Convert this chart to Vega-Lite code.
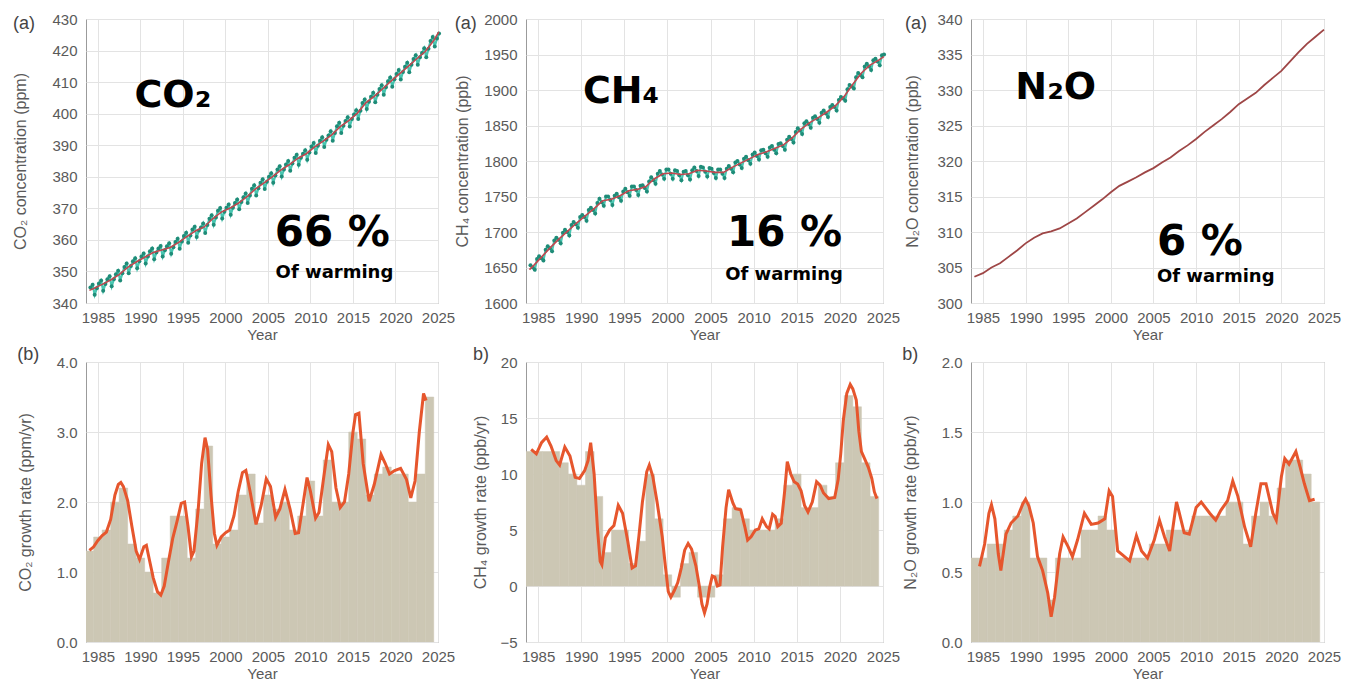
{
"$schema": "https://vega.github.io/schema/vega-lite/v6.json",
"background": "#ffffff",
"padding": {"left": 12, "top": 11, "right": 5, "bottom": 5},
"columns": 3,
"bounds": "flush",
"align": "each",
"spacing": {"row": 59, "column": 88},
"datasets": {
"co2m": [
{"t":1984.12,"v":344.9},{"t":1984.38,"v":345.8},{"t":1984.62,"v":342.6},{"t":1984.88,"v":344.7},
{"t":1985.12,"v":346.2},{"t":1985.38,"v":347.1},{"t":1985.62,"v":343.9},{"t":1985.88,"v":346.0},
{"t":1986.12,"v":347.5},{"t":1986.38,"v":348.5},{"t":1986.62,"v":345.3},{"t":1986.88,"v":347.5},
{"t":1987.12,"v":349.1},{"t":1987.38,"v":350.2},{"t":1987.62,"v":347.1},{"t":1987.88,"v":349.4},
{"t":1988.12,"v":351.4},{"t":1988.38,"v":352.5},{"t":1988.62,"v":349.4},{"t":1988.88,"v":351.7},
{"t":1989.12,"v":353.2},{"t":1989.38,"v":354.2},{"t":1989.62,"v":351.0},{"t":1989.88,"v":353.2},
{"t":1990.12,"v":354.7},{"t":1990.38,"v":355.7},{"t":1990.62,"v":352.5},{"t":1990.88,"v":354.7},
{"t":1991.12,"v":356.4},{"t":1991.38,"v":357.3},{"t":1991.62,"v":353.9},{"t":1991.88,"v":356.0},
{"t":1992.12,"v":357.3},{"t":1992.38,"v":358.1},{"t":1992.62,"v":354.7},{"t":1992.88,"v":356.7},
{"t":1993.12,"v":358.0},{"t":1993.38,"v":358.9},{"t":1993.62,"v":355.6},{"t":1993.88,"v":357.7},
{"t":1994.12,"v":359.3},{"t":1994.38,"v":360.4},{"t":1994.62,"v":357.2},{"t":1994.88,"v":359.5},
{"t":1995.12,"v":361.2},{"t":1995.38,"v":362.3},{"t":1995.62,"v":359.1},{"t":1995.88,"v":361.4},
{"t":1996.12,"v":363.3},{"t":1996.38,"v":364.2},{"t":1996.62,"v":360.9},{"t":1996.88,"v":363.0},
{"t":1997.12,"v":363.9},{"t":1997.38,"v":365.2},{"t":1997.62,"v":362.2},{"t":1997.88,"v":364.7},
{"t":1998.12,"v":366.7},{"t":1998.38,"v":367.8},{"t":1998.62,"v":364.8},{"t":1998.88,"v":367.1},
{"t":1999.12,"v":369.2},{"t":1999.38,"v":370.1},{"t":1999.62,"v":366.8},{"t":1999.88,"v":368.9},
{"t":2000.12,"v":370.2},{"t":2000.38,"v":371.2},{"t":2000.62,"v":368.0},{"t":2000.88,"v":370.2},
{"t":2001.12,"v":371.7},{"t":2001.38,"v":372.8},{"t":2001.62,"v":369.7},{"t":2001.88,"v":372.0},
{"t":2002.12,"v":373.5},{"t":2002.38,"v":374.7},{"t":2002.62,"v":371.7},{"t":2002.88,"v":374.1},
{"t":2003.12,"v":376.2},{"t":2003.38,"v":377.3},{"t":2003.62,"v":374.1},{"t":2003.88,"v":376.4},
{"t":2004.12,"v":378.1},{"t":2004.38,"v":379.2},{"t":2004.62,"v":376.1},{"t":2004.88,"v":378.4},
{"t":2005.12,"v":380.0},{"t":2005.38,"v":381.1},{"t":2005.62,"v":378.1},{"t":2005.88,"v":380.4},
{"t":2006.12,"v":382.3},{"t":2006.38,"v":383.3},{"t":2006.62,"v":380.1},{"t":2006.88,"v":382.3},
{"t":2007.12,"v":383.9},{"t":2007.38,"v":385.0},{"t":2007.62,"v":381.9},{"t":2007.88,"v":384.2},
{"t":2008.12,"v":386.0},{"t":2008.38,"v":387.0},{"t":2008.62,"v":383.8},{"t":2008.88,"v":386.0},
{"t":2009.12,"v":387.3},{"t":2009.38,"v":388.4},{"t":2009.62,"v":385.4},{"t":2009.88,"v":387.7},
{"t":2010.12,"v":389.6},{"t":2010.38,"v":390.7},{"t":2010.62,"v":387.5},{"t":2010.88,"v":389.8},
{"t":2011.12,"v":391.4},{"t":2011.38,"v":392.5},{"t":2011.62,"v":389.4},{"t":2011.88,"v":391.7},
{"t":2012.12,"v":393.1},{"t":2012.38,"v":394.4},{"t":2012.62,"v":391.4},{"t":2012.88,"v":393.9},
{"t":2013.12,"v":396.0},{"t":2013.38,"v":397.1},{"t":2013.62,"v":393.9},{"t":2013.88,"v":396.2},
{"t":2014.12,"v":397.7},{"t":2014.38,"v":398.9},{"t":2014.62,"v":395.9},{"t":2014.88,"v":398.3},
{"t":2015.12,"v":399.7},{"t":2015.38,"v":401.1},{"t":2015.62,"v":398.3},{"t":2015.88,"v":400.9},
{"t":2016.12,"v":403.4},{"t":2016.38,"v":404.5},{"t":2016.62,"v":401.5},{"t":2016.88,"v":403.8},
{"t":2017.12,"v":405.4},{"t":2017.38,"v":406.6},{"t":2017.62,"v":403.6},{"t":2017.88,"v":406.0},
{"t":2018.12,"v":407.8},{"t":2018.38,"v":409.0},{"t":2018.62,"v":406.0},{"t":2018.88,"v":408.4},
{"t":2019.12,"v":410.3},{"t":2019.38,"v":411.5},{"t":2019.62,"v":408.5},{"t":2019.88,"v":410.9},
{"t":2020.12,"v":412.6},{"t":2020.38,"v":413.8},{"t":2020.62,"v":410.8},{"t":2020.88,"v":413.2},
{"t":2021.12,"v":414.9},{"t":2021.38,"v":416.1},{"t":2021.62,"v":413.1},{"t":2021.88,"v":415.5},
{"t":2022.12,"v":417.3},{"t":2022.38,"v":418.5},{"t":2022.62,"v":415.5},{"t":2022.88,"v":417.9},
{"t":2023.12,"v":419.2},{"t":2023.38,"v":420.7},{"t":2023.62,"v":417.9},{"t":2023.88,"v":420.6},
{"t":2024.12,"v":423.0},{"t":2024.38,"v":424.3},{"t":2024.62,"v":421.3},{"t":2024.88,"v":423.8},
{"t":2025.12,"v":425.4}
],
"co2t": [
{"t":1984.0,"v":344.0},{"t":1984.5,"v":344.6},{"t":1985.5,"v":345.9},{"t":1986.5,"v":347.3},{"t":1987.5,"v":349.0},
{"t":1988.5,"v":351.3},{"t":1989.5,"v":353.0},{"t":1990.5,"v":354.5},{"t":1991.5,"v":356.0},{"t":1992.5,"v":356.8},
{"t":1993.5,"v":357.6},{"t":1994.5,"v":359.2},{"t":1995.5,"v":361.1},{"t":1996.5,"v":362.9},{"t":1997.5,"v":364.1},
{"t":1998.5,"v":366.7},{"t":1999.5,"v":368.8},{"t":2000.5,"v":370.0},{"t":2001.5,"v":371.6},{"t":2002.5,"v":373.6},
{"t":2003.5,"v":376.1},{"t":2004.5,"v":378.0},{"t":2005.5,"v":380.0},{"t":2006.5,"v":382.1},{"t":2007.5,"v":383.8},
{"t":2008.5,"v":385.8},{"t":2009.5,"v":387.3},{"t":2010.5,"v":389.5},{"t":2011.5,"v":391.3},{"t":2012.5,"v":393.3},
{"t":2013.5,"v":395.9},{"t":2014.5,"v":397.8},{"t":2015.5,"v":400.1},{"t":2016.5,"v":403.4},{"t":2017.5,"v":405.5},
{"t":2018.5,"v":407.9},{"t":2019.5,"v":410.4},{"t":2020.5,"v":412.7},{"t":2021.5,"v":415.0},{"t":2022.5,"v":417.4},
{"t":2023.5,"v":419.7},{"t":2024.5,"v":423.2},{"t":2025.1,"v":425.9}
],
"ch4m": [
{"t":1984.12,"v":1653},{"t":1984.38,"v":1650},{"t":1984.62,"v":1647},{"t":1984.88,"v":1662},
{"t":1985.12,"v":1666},{"t":1985.38,"v":1663},{"t":1985.62,"v":1660},{"t":1985.88,"v":1675},
{"t":1986.12,"v":1680},{"t":1986.38,"v":1677},{"t":1986.62,"v":1673},{"t":1986.88,"v":1688},
{"t":1987.12,"v":1692},{"t":1987.38,"v":1689},{"t":1987.62,"v":1684},{"t":1987.88,"v":1699},
{"t":1988.12,"v":1703},{"t":1988.38,"v":1700},{"t":1988.62,"v":1695},{"t":1988.88,"v":1710},
{"t":1989.12,"v":1714},{"t":1989.38,"v":1711},{"t":1989.62,"v":1706},{"t":1989.88,"v":1721},
{"t":1990.12,"v":1724},{"t":1990.38,"v":1721},{"t":1990.62,"v":1716},{"t":1990.88,"v":1731},
{"t":1991.12,"v":1734},{"t":1991.38,"v":1731},{"t":1991.62,"v":1726},{"t":1991.88,"v":1741},
{"t":1992.12,"v":1747},{"t":1992.38,"v":1742},{"t":1992.62,"v":1737},{"t":1992.88,"v":1750},
{"t":1993.12,"v":1750},{"t":1993.38,"v":1745},{"t":1993.62,"v":1738},{"t":1993.88,"v":1751},
{"t":1994.12,"v":1754},{"t":1994.38,"v":1749},{"t":1994.62,"v":1744},{"t":1994.88,"v":1757},
{"t":1995.12,"v":1761},{"t":1995.38,"v":1756},{"t":1995.62,"v":1751},{"t":1995.88,"v":1764},
{"t":1996.12,"v":1764},{"t":1996.38,"v":1759},{"t":1996.62,"v":1752},{"t":1996.88,"v":1765},
{"t":1997.12,"v":1766},{"t":1997.38,"v":1762},{"t":1997.62,"v":1757},{"t":1997.88,"v":1771},
{"t":1998.12,"v":1777},{"t":1998.38,"v":1773},{"t":1998.62,"v":1768},{"t":1998.88,"v":1782},
{"t":1999.12,"v":1786},{"t":1999.38,"v":1781},{"t":1999.62,"v":1775},{"t":1999.88,"v":1788},
{"t":2000.12,"v":1788},{"t":2000.38,"v":1782},{"t":2000.62,"v":1775},{"t":2000.88,"v":1787},
{"t":2001.12,"v":1786},{"t":2001.38,"v":1780},{"t":2001.62,"v":1773},{"t":2001.88,"v":1785},
{"t":2002.12,"v":1786},{"t":2002.38,"v":1780},{"t":2002.62,"v":1774},{"t":2002.88,"v":1787},
{"t":2003.12,"v":1791},{"t":2003.38,"v":1786},{"t":2003.62,"v":1779},{"t":2003.88,"v":1792},
{"t":2004.12,"v":1791},{"t":2004.38,"v":1785},{"t":2004.62,"v":1778},{"t":2004.88,"v":1790},
{"t":2005.12,"v":1789},{"t":2005.38,"v":1783},{"t":2005.62,"v":1776},{"t":2005.88,"v":1788},
{"t":2006.12,"v":1788},{"t":2006.38,"v":1782},{"t":2006.62,"v":1776},{"t":2006.88,"v":1789},
{"t":2007.12,"v":1793},{"t":2007.38,"v":1789},{"t":2007.62,"v":1784},{"t":2007.88,"v":1798},
{"t":2008.12,"v":1800},{"t":2008.38,"v":1795},{"t":2008.62,"v":1790},{"t":2008.88,"v":1803},
{"t":2009.12,"v":1806},{"t":2009.38,"v":1801},{"t":2009.62,"v":1796},{"t":2009.88,"v":1809},
{"t":2010.12,"v":1812},{"t":2010.38,"v":1807},{"t":2010.62,"v":1802},{"t":2010.88,"v":1815},
{"t":2011.12,"v":1816},{"t":2011.38,"v":1811},{"t":2011.62,"v":1806},{"t":2011.88,"v":1819},
{"t":2012.12,"v":1821},{"t":2012.38,"v":1816},{"t":2012.62,"v":1811},{"t":2012.88,"v":1824},
{"t":2013.12,"v":1825},{"t":2013.38,"v":1821},{"t":2013.62,"v":1816},{"t":2013.88,"v":1830},
{"t":2014.12,"v":1834},{"t":2014.38,"v":1831},{"t":2014.62,"v":1826},{"t":2014.88,"v":1841},
{"t":2015.12,"v":1846},{"t":2015.38,"v":1843},{"t":2015.62,"v":1838},{"t":2015.88,"v":1853},
{"t":2016.12,"v":1856},{"t":2016.38,"v":1852},{"t":2016.62,"v":1847},{"t":2016.88,"v":1861},
{"t":2017.12,"v":1863},{"t":2017.38,"v":1859},{"t":2017.62,"v":1854},{"t":2017.88,"v":1868},
{"t":2018.12,"v":1871},{"t":2018.38,"v":1867},{"t":2018.62,"v":1862},{"t":2018.88,"v":1876},
{"t":2019.12,"v":1879},{"t":2019.38,"v":1876},{"t":2019.62,"v":1871},{"t":2019.88,"v":1886},
{"t":2020.12,"v":1890},{"t":2020.38,"v":1888},{"t":2020.62,"v":1885},{"t":2020.88,"v":1901},
{"t":2021.12,"v":1907},{"t":2021.38,"v":1905},{"t":2021.62,"v":1902},{"t":2021.88,"v":1918},
{"t":2022.12,"v":1924},{"t":2022.38,"v":1921},{"t":2022.62,"v":1918},{"t":2022.88,"v":1933},
{"t":2023.12,"v":1937},{"t":2023.38,"v":1933},{"t":2023.62,"v":1928},{"t":2023.88,"v":1942},
{"t":2024.12,"v":1944},{"t":2024.38,"v":1940},{"t":2024.62,"v":1935},{"t":2024.88,"v":1949},
{"t":2025.12,"v":1950}
],
"ch4t": [
{"t":1984.0,"v":1647},{"t":1984.5,"v":1653},{"t":1985.5,"v":1666},{"t":1986.5,"v":1679},{"t":1987.5,"v":1691},
{"t":1988.5,"v":1702},{"t":1989.5,"v":1713},{"t":1990.5,"v":1723},{"t":1991.5,"v":1733},{"t":1992.5,"v":1744},
{"t":1993.5,"v":1746},{"t":1994.5,"v":1751},{"t":1995.5,"v":1758},{"t":1996.5,"v":1760},{"t":1997.5,"v":1764},
{"t":1998.5,"v":1775},{"t":1999.5,"v":1782},{"t":2000.5,"v":1783},{"t":2001.5,"v":1781},{"t":2002.5,"v":1782},
{"t":2003.5,"v":1787},{"t":2004.5,"v":1786},{"t":2005.5,"v":1784},{"t":2006.5,"v":1784},{"t":2007.5,"v":1791},
{"t":2008.5,"v":1797},{"t":2009.5,"v":1803},{"t":2010.5,"v":1809},{"t":2011.5,"v":1813},{"t":2012.5,"v":1818},
{"t":2013.5,"v":1823},{"t":2014.5,"v":1833},{"t":2015.5,"v":1845},{"t":2016.5,"v":1854},{"t":2017.5,"v":1861},
{"t":2018.5,"v":1869},{"t":2019.5,"v":1878},{"t":2020.5,"v":1891},{"t":2021.5,"v":1908},{"t":2022.5,"v":1924},
{"t":2023.5,"v":1935},{"t":2024.5,"v":1942},{"t":2025.1,"v":1947}
],
"n2o": [
{"t":1984.0,"v":303.7},{"t":1985.0,"v":304.2},{"t":1986.0,"v":305.0},{"t":1987.0,"v":305.6},{"t":1988.0,"v":306.5},
{"t":1989.0,"v":307.4},{"t":1990.0,"v":308.4},{"t":1991.0,"v":309.2},{"t":1992.0,"v":309.8},{"t":1993.0,"v":310.1},
{"t":1994.0,"v":310.5},{"t":1995.0,"v":311.2},{"t":1996.0,"v":311.9},{"t":1997.0,"v":312.8},{"t":1998.0,"v":313.7},
{"t":1999.0,"v":314.6},{"t":2000.0,"v":315.6},{"t":2001.0,"v":316.5},{"t":2002.0,"v":317.1},{"t":2003.0,"v":317.7},
{"t":2004.0,"v":318.4},{"t":2005.0,"v":319.0},{"t":2006.0,"v":319.8},{"t":2007.0,"v":320.5},{"t":2008.0,"v":321.4},
{"t":2009.0,"v":322.2},{"t":2010.0,"v":323.1},{"t":2011.0,"v":324.1},{"t":2012.0,"v":325.0},{"t":2013.0,"v":325.9},
{"t":2014.0,"v":326.9},{"t":2015.0,"v":328.0},{"t":2016.0,"v":328.8},{"t":2017.0,"v":329.6},{"t":2018.0,"v":330.7},
{"t":2019.0,"v":331.7},{"t":2020.0,"v":332.7},{"t":2021.0,"v":334.0},{"t":2022.0,"v":335.3},{"t":2023.0,"v":336.5},
{"t":2024.0,"v":337.5},{"t":2025.0,"v":338.5}
],
"co2g": [
{"t":1984.0,"v":1.31},{"t":1984.5,"v":1.36},{"t":1985.0,"v":1.45},{"t":1985.5,"v":1.52},{"t":1986.0,"v":1.57},
{"t":1986.5,"v":1.75},{"t":1987.0,"v":2.1},{"t":1987.4,"v":2.25},{"t":1987.7,"v":2.28},{"t":1988.0,"v":2.22},
{"t":1988.5,"v":2.02},{"t":1989.0,"v":1.65},{"t":1989.5,"v":1.3},{"t":1989.9,"v":1.18},{"t":1990.4,"v":1.36},
{"t":1990.7,"v":1.38},{"t":1991.1,"v":1.15},{"t":1991.5,"v":0.92},{"t":1992.0,"v":0.72},{"t":1992.4,"v":0.67},
{"t":1992.8,"v":0.8},{"t":1993.3,"v":1.15},{"t":1993.8,"v":1.48},{"t":1994.3,"v":1.72},{"t":1994.8,"v":1.98},
{"t":1995.2,"v":2.0},{"t":1995.6,"v":1.65},{"t":1996.0,"v":1.22},{"t":1996.3,"v":1.3},{"t":1996.8,"v":1.9},
{"t":1997.2,"v":2.55},{"t":1997.6,"v":2.92},{"t":1997.9,"v":2.75},{"t":1998.3,"v":2.1},{"t":1998.7,"v":1.55},
{"t":1999.0,"v":1.38},{"t":1999.5,"v":1.5},{"t":2000.0,"v":1.56},{"t":2000.5,"v":1.6},{"t":2001.0,"v":1.8},
{"t":2001.5,"v":2.15},{"t":2002.0,"v":2.42},{"t":2002.4,"v":2.45},{"t":2002.9,"v":2.15},{"t":2003.6,"v":1.68},
{"t":2004.2,"v":1.95},{"t":2004.8,"v":2.33},{"t":2005.3,"v":2.22},{"t":2005.9,"v":1.78},{"t":2006.4,"v":1.9},
{"t":2007.0,"v":2.18},{"t":2007.6,"v":1.9},{"t":2008.2,"v":1.55},{"t":2008.6,"v":1.56},{"t":2009.1,"v":1.95},
{"t":2009.6,"v":2.35},{"t":2010.0,"v":2.15},{"t":2010.6,"v":1.77},{"t":2011.0,"v":1.85},{"t":2011.5,"v":2.3},
{"t":2012.1,"v":2.82},{"t":2012.5,"v":2.72},{"t":2013.0,"v":2.2},{"t":2013.5,"v":1.92},{"t":2014.0,"v":2.0},
{"t":2014.5,"v":2.4},{"t":2015.0,"v":3.0},{"t":2015.3,"v":3.25},{"t":2015.7,"v":3.27},{"t":2016.2,"v":2.55},
{"t":2016.9,"v":2.01},{"t":2017.5,"v":2.25},{"t":2018.3,"v":2.68},{"t":2018.8,"v":2.55},{"t":2019.3,"v":2.4},
{"t":2019.9,"v":2.45},{"t":2020.6,"v":2.48},{"t":2021.3,"v":2.32},{"t":2021.8,"v":2.06},{"t":2022.3,"v":2.3},
{"t":2022.8,"v":3.0},{"t":2023.3,"v":3.55},{"t":2023.6,"v":3.45}
],
"co2b": [
{"t":1983.5,"e":1984.5,"v":1.3},{"t":1984.5,"e":1985.5,"v":1.5},{"t":1985.5,"e":1986.5,"v":1.6},{"t":1986.5,"e":1987.5,"v":2.0},
{"t":1987.5,"e":1988.5,"v":2.2},{"t":1988.5,"e":1989.5,"v":1.4},{"t":1989.5,"e":1990.5,"v":1.2},{"t":1990.5,"e":1991.5,"v":1.0},
{"t":1991.5,"e":1992.5,"v":0.7},{"t":1992.5,"e":1993.5,"v":1.2},{"t":1993.5,"e":1994.5,"v":1.8},{"t":1994.5,"e":1995.5,"v":1.8},
{"t":1995.5,"e":1996.5,"v":1.2},{"t":1996.5,"e":1997.5,"v":1.9},{"t":1997.5,"e":1998.5,"v":2.8},{"t":1998.5,"e":1999.5,"v":1.4},
{"t":1999.5,"e":2000.5,"v":1.5},{"t":2000.5,"e":2001.5,"v":1.6},{"t":2001.5,"e":2002.5,"v":2.1},{"t":2002.5,"e":2003.5,"v":2.4},
{"t":2003.5,"e":2004.5,"v":1.7},{"t":2004.5,"e":2005.5,"v":2.1},{"t":2005.5,"e":2006.5,"v":1.9},{"t":2006.5,"e":2007.5,"v":2.0},
{"t":2007.5,"e":2008.5,"v":1.6},{"t":2008.5,"e":2009.5,"v":1.8},{"t":2009.5,"e":2010.5,"v":2.3},{"t":2010.5,"e":2011.5,"v":1.8},
{"t":2011.5,"e":2012.5,"v":2.6},{"t":2012.5,"e":2013.5,"v":2.0},{"t":2013.5,"e":2014.5,"v":2.0},{"t":2014.5,"e":2015.5,"v":3.0},
{"t":2015.5,"e":2016.5,"v":2.9},{"t":2016.5,"e":2017.5,"v":2.1},{"t":2017.5,"e":2018.5,"v":2.4},{"t":2018.5,"e":2019.5,"v":2.5},
{"t":2019.5,"e":2020.5,"v":2.4},{"t":2020.5,"e":2021.5,"v":2.4},{"t":2021.5,"e":2022.5,"v":2.0},{"t":2022.5,"e":2023.5,"v":2.4},
{"t":2023.5,"e":2024.5,"v":3.5}
],
"ch4g": [
{"t":1984.2,"v":12.2},{"t":1984.8,"v":11.8},{"t":1985.4,"v":12.8},{"t":1986.0,"v":13.3},{"t":1986.5,"v":12.5},
{"t":1987.1,"v":11.2},{"t":1987.5,"v":10.8},{"t":1988.1,"v":12.4},{"t":1988.7,"v":11.6},{"t":1989.3,"v":9.7},
{"t":1989.8,"v":9.6},{"t":1990.4,"v":10.3},{"t":1990.8,"v":11.2},{"t":1991.1,"v":12.8},{"t":1991.5,"v":10.0},
{"t":1991.9,"v":5.0},{"t":1992.2,"v":2.2},{"t":1992.4,"v":1.9},{"t":1992.8,"v":4.3},{"t":1993.3,"v":5.0},
{"t":1993.8,"v":5.4},{"t":1994.3,"v":7.2},{"t":1994.8,"v":6.5},{"t":1995.4,"v":4.0},{"t":1995.9,"v":1.6},
{"t":1996.3,"v":1.8},{"t":1996.7,"v":4.5},{"t":1997.1,"v":7.5},{"t":1997.6,"v":10.2},{"t":1997.9,"v":10.8},
{"t":1998.3,"v":9.8},{"t":1998.8,"v":7.5},{"t":1999.4,"v":4.4},{"t":1999.8,"v":1.5},{"t":2000.1,"v":-0.5},
{"t":2000.4,"v":-1.0},{"t":2000.8,"v":-0.4},{"t":2001.2,"v":0.3},{"t":2001.6,"v":1.6},{"t":2002.0,"v":3.2},
{"t":2002.4,"v":3.8},{"t":2002.8,"v":3.3},{"t":2003.3,"v":1.8},{"t":2003.7,"v":0.0},{"t":2004.0,"v":-1.6},
{"t":2004.3,"v":-2.4},{"t":2004.6,"v":-1.6},{"t":2004.9,"v":-0.1},{"t":2005.2,"v":0.9},{"t":2005.5,"v":0.8},
{"t":2005.8,"v":0.0},{"t":2006.1,"v":0.1},{"t":2006.4,"v":3.5},{"t":2006.8,"v":7.0},{"t":2007.1,"v":8.6},
{"t":2007.6,"v":7.4},{"t":2007.9,"v":6.9},{"t":2008.5,"v":6.8},{"t":2009.0,"v":5.2},{"t":2009.3,"v":4.1},
{"t":2009.7,"v":4.4},{"t":2010.2,"v":5.0},{"t":2010.6,"v":5.1},{"t":2011.0,"v":6.0},{"t":2011.5,"v":5.3},
{"t":2011.8,"v":5.1},{"t":2012.2,"v":6.4},{"t":2012.5,"v":6.2},{"t":2012.8,"v":5.3},{"t":2013.2,"v":5.6},
{"t":2013.6,"v":8.5},{"t":2013.9,"v":11.1},{"t":2014.3,"v":10.0},{"t":2014.7,"v":9.3},{"t":2015.1,"v":9.1},
{"t":2015.5,"v":8.5},{"t":2015.9,"v":7.2},{"t":2016.3,"v":6.6},{"t":2016.8,"v":7.5},{"t":2017.3,"v":9.3},
{"t":2017.7,"v":9.0},{"t":2018.1,"v":8.3},{"t":2018.7,"v":7.8},{"t":2019.4,"v":7.9},{"t":2019.8,"v":9.5},
{"t":2020.1,"v":11.8},{"t":2020.4,"v":14.8},{"t":2020.8,"v":17.2},{"t":2021.2,"v":18.0},{"t":2021.5,"v":17.6},
{"t":2021.9,"v":16.6},{"t":2022.2,"v":13.8},{"t":2022.5,"v":12.0},{"t":2022.9,"v":11.3},{"t":2023.3,"v":10.6},
{"t":2023.7,"v":9.6},{"t":2024.0,"v":8.4},{"t":2024.3,"v":7.8}
],
"ch4b": [
{"t":1983.5,"e":1984.5,"v":12},{"t":1984.5,"e":1985.5,"v":12},{"t":1985.5,"e":1986.5,"v":12},{"t":1986.5,"e":1987.5,"v":12},
{"t":1987.5,"e":1988.5,"v":11},{"t":1988.5,"e":1989.5,"v":10},{"t":1989.5,"e":1990.5,"v":9},{"t":1990.5,"e":1991.5,"v":12},
{"t":1991.5,"e":1992.5,"v":8},{"t":1992.5,"e":1993.5,"v":3},{"t":1993.5,"e":1994.5,"v":5},{"t":1994.5,"e":1995.5,"v":5},
{"t":1995.5,"e":1996.5,"v":2},{"t":1996.5,"e":1997.5,"v":4},{"t":1997.5,"e":1998.5,"v":10},{"t":1998.5,"e":1999.5,"v":6},
{"t":1999.5,"e":2000.5,"v":1},{"t":2000.5,"e":2001.5,"v":-1},{"t":2001.5,"e":2002.5,"v":2},{"t":2002.5,"e":2003.5,"v":3},
{"t":2003.5,"e":2004.5,"v":-1},{"t":2004.5,"e":2005.5,"v":-1},{"t":2005.5,"e":2006.5,"v":1},{"t":2006.5,"e":2007.5,"v":6},
{"t":2007.5,"e":2008.5,"v":7},{"t":2008.5,"e":2009.5,"v":6},{"t":2009.5,"e":2010.5,"v":5},{"t":2010.5,"e":2011.5,"v":5},
{"t":2011.5,"e":2012.5,"v":5},{"t":2012.5,"e":2013.5,"v":6},{"t":2013.5,"e":2014.5,"v":9},{"t":2014.5,"e":2015.5,"v":10},
{"t":2015.5,"e":2016.5,"v":7},{"t":2016.5,"e":2017.5,"v":7},{"t":2017.5,"e":2018.5,"v":9},{"t":2018.5,"e":2019.5,"v":8},
{"t":2019.5,"e":2020.5,"v":11},{"t":2020.5,"e":2021.5,"v":17},{"t":2021.5,"e":2022.5,"v":16},{"t":2022.5,"e":2023.5,"v":11},
{"t":2023.5,"e":2024.5,"v":8}
],
"n2og": [
{"t":1984.6,"v":0.54},{"t":1985.2,"v":0.7},{"t":1985.7,"v":0.92},{"t":1986.0,"v":0.98},{"t":1986.4,"v":0.88},
{"t":1986.8,"v":0.63},{"t":1987.1,"v":0.51},{"t":1987.7,"v":0.77},{"t":1988.3,"v":0.85},{"t":1989.1,"v":0.9},
{"t":1989.7,"v":0.99},{"t":1990.0,"v":1.02},{"t":1990.4,"v":0.97},{"t":1990.9,"v":0.85},{"t":1991.4,"v":0.61},
{"t":1992.0,"v":0.51},{"t":1992.6,"v":0.35},{"t":1993.0,"v":0.18},{"t":1993.4,"v":0.32},{"t":1994.0,"v":0.63},
{"t":1994.4,"v":0.75},{"t":1995.0,"v":0.68},{"t":1995.5,"v":0.61},{"t":1996.1,"v":0.73},{"t":1996.9,"v":0.92},
{"t":1997.7,"v":0.84},{"t":1998.5,"v":0.85},{"t":1999.3,"v":0.88},{"t":1999.8,"v":1.08},{"t":2000.2,"v":1.04},
{"t":2000.8,"v":0.65},{"t":2001.4,"v":0.62},{"t":2002.2,"v":0.58},{"t":2003.0,"v":0.76},{"t":2003.6,"v":0.65},
{"t":2004.3,"v":0.6},{"t":2005.1,"v":0.73},{"t":2005.7,"v":0.87},{"t":2006.3,"v":0.75},{"t":2006.9,"v":0.65},
{"t":2007.7,"v":1.0},{"t":2008.0,"v":0.93},{"t":2008.6,"v":0.78},{"t":2009.2,"v":0.77},{"t":2010.0,"v":0.96},
{"t":2010.6,"v":1.0},{"t":2011.6,"v":0.92},{"t":2012.3,"v":0.87},{"t":2012.9,"v":0.94},{"t":2013.7,"v":1.01},
{"t":2014.3,"v":1.15},{"t":2014.9,"v":1.04},{"t":2015.7,"v":0.82},{"t":2016.4,"v":0.68},{"t":2017.0,"v":0.92},
{"t":2017.6,"v":1.13},{"t":2018.2,"v":1.13},{"t":2019.0,"v":0.92},{"t":2019.4,"v":0.87},{"t":2020.0,"v":1.18},
{"t":2020.4,"v":1.31},{"t":2020.9,"v":1.27},{"t":2021.7,"v":1.36},{"t":2022.2,"v":1.25},{"t":2022.7,"v":1.13},
{"t":2023.3,"v":1.01},{"t":2023.9,"v":1.02}
],
"n2ob": [
{"t":1983.5,"e":1984.5,"v":0.6},{"t":1984.5,"e":1985.5,"v":0.6},{"t":1985.5,"e":1986.5,"v":0.7},{"t":1986.5,"e":1987.5,"v":0.7},
{"t":1987.5,"e":1988.5,"v":0.8},{"t":1988.5,"e":1989.5,"v":0.9},{"t":1989.5,"e":1990.5,"v":1.0},{"t":1990.5,"e":1991.5,"v":0.6},
{"t":1991.5,"e":1992.5,"v":0.6},{"t":1992.5,"e":1993.5,"v":0.3},{"t":1993.5,"e":1994.5,"v":0.6},{"t":1994.5,"e":1995.5,"v":0.6},
{"t":1995.5,"e":1996.5,"v":0.6},{"t":1996.5,"e":1997.5,"v":0.8},{"t":1997.5,"e":1998.5,"v":0.8},{"t":1998.5,"e":1999.5,"v":0.9},
{"t":1999.5,"e":2000.5,"v":0.8},{"t":2000.5,"e":2001.5,"v":0.6},{"t":2001.5,"e":2002.5,"v":0.6},{"t":2002.5,"e":2003.5,"v":0.6},
{"t":2003.5,"e":2004.5,"v":0.6},{"t":2004.5,"e":2005.5,"v":0.7},{"t":2005.5,"e":2006.5,"v":0.7},{"t":2006.5,"e":2007.5,"v":0.8},
{"t":2007.5,"e":2008.5,"v":0.8},{"t":2008.5,"e":2009.5,"v":0.8},{"t":2009.5,"e":2010.5,"v":0.9},{"t":2010.5,"e":2011.5,"v":0.9},
{"t":2011.5,"e":2012.5,"v":0.9},{"t":2012.5,"e":2013.5,"v":0.9},{"t":2013.5,"e":2014.5,"v":1.0},{"t":2014.5,"e":2015.5,"v":1.0},
{"t":2015.5,"e":2016.5,"v":0.7},{"t":2016.5,"e":2017.5,"v":0.9},{"t":2017.5,"e":2018.5,"v":1.0},{"t":2018.5,"e":2019.5,"v":0.9},
{"t":2019.5,"e":2020.5,"v":1.1},{"t":2020.5,"e":2021.5,"v":1.3},{"t":2021.5,"e":2022.5,"v":1.3},{"t":2022.5,"e":2023.5,"v":1.2},
{"t":2023.5,"e":2024.5,"v":1.0}
]
},
"concat": [
{
"width": 352, "height": 284,
"title": {"text": "(a)", "dy": 25},
"encoding": {
"x": {"field": "t", "type": "quantitative", "scale": {"domain": [1983.6, 2025], "nice": false, "zero": false}, "axis": {"values": [1985,1990,1995,2000,2005,2010,2015,2020,2025], "format": "d", "title": "Year"}},
"y": {"field": "v", "type": "quantitative", "scale": {"domain": [340, 430], "nice": false, "zero": false}, "axis": {"values": [340,350,360,370,380,390,400,410,420,430], "format": "d", "title": "CO₂ concentration (ppm)", "titlePadding": 23}}
},
"layer": [
{"data": {"name": "co2m"}, "mark": {"type": "line", "color": "#48c6b1", "strokeWidth": 2.2, "point": {"filled": true, "size": 16, "color": "#1f8c78"}}},
{"data": {"name": "co2t"}, "mark": {"type": "line", "color": "#c0474f", "strokeWidth": 1.6}},
{"data": {"values": [{"t": 1989.3, "v": 405.6, "s": "CO₂"}]}, "mark": {"type": "text", "align": "left", "baseline": "middle", "font": "DejaVu Sans", "fontWeight": "bold", "fontSize": 38, "color": "#000000"}, "encoding": {"text": {"field": "s"}}},
{"data": {"values": [{"t": 2005.8, "v": 362.2, "s": "66 %"}]}, "mark": {"type": "text", "align": "left", "baseline": "middle", "font": "DejaVu Sans", "fontWeight": "bold", "fontSize": 42, "color": "#000000"}, "encoding": {"text": {"field": "s"}}},
{"data": {"values": [{"t": 2005.9, "v": 349.5, "s": "Of warming"}]}, "mark": {"type": "text", "align": "left", "baseline": "middle", "font": "DejaVu Sans", "fontWeight": "bold", "fontSize": 18, "color": "#000000"}, "encoding": {"text": {"field": "s"}}}
]
},
{
"width": 357, "height": 284,
"title": {"text": "(a)", "dy": 25},
"encoding": {
"x": {"field": "t", "type": "quantitative", "scale": {"domain": [1983.6, 2025], "nice": false, "zero": false}, "axis": {"values": [1985,1990,1995,2000,2005,2010,2015,2020,2025], "format": "d", "title": "Year"}},
"y": {"field": "v", "type": "quantitative", "scale": {"domain": [1600, 2000], "nice": false, "zero": false}, "axis": {"values": [1600,1650,1700,1750,1800,1850,1900,1950,2000], "format": "d", "title": "CH₄ concentration (ppb)", "titlePadding": 13}}
},
"layer": [
{"data": {"name": "ch4m"}, "mark": {"type": "line", "color": "#48c6b1", "strokeWidth": 2.2, "point": {"filled": true, "size": 16, "color": "#1f8c78"}}},
{"data": {"name": "ch4t"}, "mark": {"type": "line", "color": "#c0474f", "strokeWidth": 1.6}},
{"data": {"values": [{"t": 1990.2, "v": 1897.5, "s": "CH₄"}]}, "mark": {"type": "text", "align": "left", "baseline": "middle", "font": "DejaVu Sans", "fontWeight": "bold", "fontSize": 38, "color": "#000000"}, "encoding": {"text": {"field": "s"}}},
{"data": {"values": [{"t": 2006.9, "v": 1698, "s": "16 %"}]}, "mark": {"type": "text", "align": "left", "baseline": "middle", "font": "DejaVu Sans", "fontWeight": "bold", "fontSize": 42, "color": "#000000"}, "encoding": {"text": {"field": "s"}}},
{"data": {"values": [{"t": 2006.7, "v": 1639, "s": "Of warming"}]}, "mark": {"type": "text", "align": "left", "baseline": "middle", "font": "DejaVu Sans", "fontWeight": "bold", "fontSize": 18, "color": "#000000"}, "encoding": {"text": {"field": "s"}}}
]
},
{
"width": 353, "height": 284,
"title": {"text": "(a)", "dy": 25},
"encoding": {
"x": {"field": "t", "type": "quantitative", "scale": {"domain": [1983.6, 2025], "nice": false, "zero": false}, "axis": {"values": [1985,1990,1995,2000,2005,2010,2015,2020,2025], "format": "d", "title": "Year"}},
"y": {"field": "v", "type": "quantitative", "scale": {"domain": [300, 340], "nice": false, "zero": false}, "axis": {"values": [300,305,310,315,320,325,330,335,340], "format": "d", "title": "N₂O concentration (ppb)", "titlePadding": 16}}
},
"layer": [
{"data": {"name": "n2o"}, "mark": {"type": "line", "color": "#9e4646", "strokeWidth": 1.8}},
{"data": {"values": [{"t": 1988.8, "v": 330.3, "s": "N₂O"}]}, "mark": {"type": "text", "align": "left", "baseline": "middle", "font": "DejaVu Sans", "fontWeight": "bold", "fontSize": 38, "color": "#000000"}, "encoding": {"text": {"field": "s"}}},
{"data": {"values": [{"t": 2005.4, "v": 308.6, "s": "6 %"}]}, "mark": {"type": "text", "align": "left", "baseline": "middle", "font": "DejaVu Sans", "fontWeight": "bold", "fontSize": 42, "color": "#000000"}, "encoding": {"text": {"field": "s"}}},
{"data": {"values": [{"t": 2005.4, "v": 303.6, "s": "Of warming"}]}, "mark": {"type": "text", "align": "left", "baseline": "middle", "font": "DejaVu Sans", "fontWeight": "bold", "fontSize": 18, "color": "#000000"}, "encoding": {"text": {"field": "s"}}}
]
},
{
"width": 352, "height": 280,
"title": {"text": "(b)", "dy": 13},
"encoding": {
"x": {"field": "t", "type": "quantitative", "scale": {"domain": [1983.6, 2025], "nice": false, "zero": false}, "axis": {"values": [1985,1990,1995,2000,2005,2010,2015,2020,2025], "format": "d", "title": "Year"}},
"y": {"field": "v", "type": "quantitative", "scale": {"domain": [0, 4], "nice": false, "zero": false}, "axis": {"values": [0,1,2,3,4], "format": ".1f", "title": "CO₂ growth rate (ppm/yr)", "titlePadding": 23}}
},
"layer": [
{"data": {"name": "co2b"}, "mark": {"type": "rect", "color": "#ccc7b4", "stroke": "#ccc7b4", "strokeWidth": 0.5, "clip": true}, "encoding": {"x2": {"field": "e"}, "y2": {"datum": 0}}},
{"data": {"name": "co2g"}, "mark": {"type": "line", "color": "#e6562d", "strokeWidth": 3}}
]
},
{
"width": 357, "height": 280,
"title": {"text": "b)", "dy": 13},
"encoding": {
"x": {"field": "t", "type": "quantitative", "scale": {"domain": [1983.6, 2025], "nice": false, "zero": false}, "axis": {"values": [1985,1990,1995,2000,2005,2010,2015,2020,2025], "format": "d", "title": "Year"}},
"y": {"field": "v", "type": "quantitative", "scale": {"domain": [-5, 20], "nice": false, "zero": false}, "axis": {"values": [-5,0,5,10,15,20], "format": "d", "title": "CH₄ growth rate (ppb/yr)", "titlePadding": 11}}
},
"layer": [
{"data": {"name": "ch4b"}, "mark": {"type": "rect", "color": "#ccc7b4", "stroke": "#ccc7b4", "strokeWidth": 0.5, "clip": true}, "encoding": {"x2": {"field": "e"}, "y2": {"datum": 0}}},
{"data": {"name": "ch4g"}, "mark": {"type": "line", "color": "#e6562d", "strokeWidth": 3}}
]
},
{
"width": 353, "height": 280,
"title": {"text": "b)", "dy": 13},
"encoding": {
"x": {"field": "t", "type": "quantitative", "scale": {"domain": [1983.6, 2025], "nice": false, "zero": false}, "axis": {"values": [1985,1990,1995,2000,2005,2010,2015,2020,2025], "format": "d", "title": "Year"}},
"y": {"field": "v", "type": "quantitative", "scale": {"domain": [0, 2], "nice": false, "zero": false}, "axis": {"values": [0,0.5,1,1.5,2], "format": ".1f", "title": "N₂O growth rate (ppb/yr)", "titlePadding": 23}}
},
"layer": [
{"data": {"name": "n2ob"}, "mark": {"type": "rect", "color": "#ccc7b4", "stroke": "#ccc7b4", "strokeWidth": 0.5, "clip": true}, "encoding": {"x2": {"field": "e"}, "y2": {"datum": 0}}},
{"data": {"name": "n2og"}, "mark": {"type": "line", "color": "#e6562d", "strokeWidth": 3}}
]
}
],
"config": {
"font": "Liberation Sans",
"view": {"stroke": "#9b9b9b", "strokeWidth": 1},
"axis": {"labelFont": "Liberation Sans", "titleFont": "Liberation Sans", "labelFontSize": 15, "titleFontSize": 15, "labelColor": "#5a5a5a", "titleColor": "#5a5a5a", "titleFontWeight": "normal", "grid": true, "gridColor": "#e3e3e3", "domain": false, "ticks": false, "labelFlush": false, "labelOverlap": false},
"axisX": {"labelPadding": 7, "titlePadding": 2},
"axisY": {"labelPadding": 9, "titleFontSize": 16},
"title": {"font": "Liberation Sans", "fontSize": 18, "fontWeight": "normal", "color": "#444444", "anchor": "start", "frame": "bounds", "offset": 0}
}
}
